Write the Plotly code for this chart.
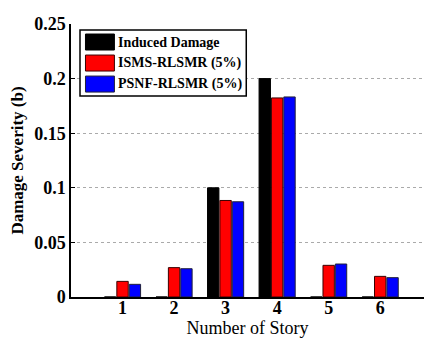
import plotly.graph_objects as go

# Damage severity per story
stories = [1, 2, 3, 4, 5, 6]
series_names = ["Induced Damage", "ISMS-RLSMR (5%)", "PSNF-RLSMR (5%)"]
induced = [0.0, 0.0, 0.10, 0.20, 0.0, 0.0]
isms = [0.0143, 0.0269, 0.0884, 0.1823, 0.0290, 0.0189]
psnf = [0.0116, 0.0259, 0.0872, 0.1832, 0.0302, 0.0177]
y_ticks = [0, 0.05, 0.1, 0.15, 0.2, 0.25]
y_tick_text = ["0", "0.05", "0.1", "0.15", "0.2", "0.25"]

colors = ["#000000", "#ff0000", "#0000ff"]
edges = ["#000000", "#3a0000", "#20203a"]
FONT = "Liberation Serif"

fig = go.Figure()
for name, vals, c, e in zip(series_names, [induced, isms, psnf], colors, edges):
    fig.add_trace(go.Bar(
        x=stories, y=vals, name=name,
        marker=dict(color=c, line=dict(color=e, width=1)),
        showlegend=False,
    ))

# Boxed legend with wide swatches, drawn in paper coordinates
box = dict(x0=0.0255, x1=0.4965, y0=0.736, y1=0.978)
fig.add_shape(type="rect", xref="paper", yref="paper", layer="above",
              fillcolor="white", line=dict(color="black", width=1.5), **box)
row_y = [0.934, 0.857, 0.780]
for name, c, e, yc in zip(series_names, colors, edges, row_y):
    fig.add_shape(type="rect", xref="paper", yref="paper", layer="above",
                  x0=0.041, x1=0.123, y0=yc - 0.0293, y1=yc + 0.0293,
                  fillcolor=c, line=dict(color=e, width=1))
    fig.add_annotation(xref="paper", yref="paper", x=0.1287, y=yc,
                       xanchor="left", yanchor="middle", showarrow=False,
                       text="<b>%s</b>" % name,
                       font=dict(family=FONT, size=14, color="black"))

fig.update_layout(
    width=424, height=338,
    margin=dict(l=70.5, r=0, t=24, b=41, pad=0),
    paper_bgcolor="white", plot_bgcolor="white",
    barmode="group", bargap=0.28, bargroupgap=0.08,
    font=dict(family=FONT, color="black"),
)
fig.update_xaxes(
    range=[0, 6.85], tickvals=stories,
    ticktext=["<b>%d</b>" % s for s in stories],
    tickfont=dict(family=FONT, size=18, color="black"),
    ticklabelstandoff=-6,
    showgrid=False, zeroline=False,
    showline=True, linecolor="black", linewidth=1.5,
    ticks="", title=dict(text="Number of Story",
                         font=dict(family=FONT, size=18, color="black"),
                         standoff=0),
)
fig.update_yaxes(
    range=[0, 0.25], tickvals=y_ticks,
    ticktext=["<b>%s</b>" % t for t in y_tick_text],
    tickfont=dict(family=FONT, size=18, color="black"),
    showgrid=True, gridcolor="#aaaaaa", griddash="dot", gridwidth=1,
    zeroline=False, showline=True, linecolor="black", linewidth=1.5,
    ticks="inside", ticklen=4, tickcolor="black",
    title=dict(text="<b>Damage Severity (b)</b>",
               font=dict(family=FONT, size=17, color="black"),
               standoff=6),
)

fig.write_html("out.html")
